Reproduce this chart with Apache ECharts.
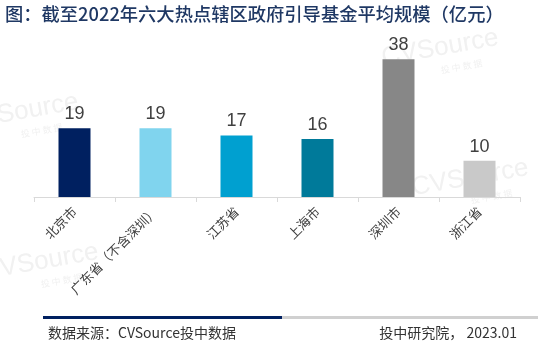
<!DOCTYPE html>
<html>
<head>
<meta charset="utf-8">
<script src="https://cdn.jsdelivr.net/npm/echarts@6/dist/echarts.min.js"></script>
<style>
html,body{margin:0;padding:0;background:#fff;}
#c{width:538px;height:349px;}
</style>
</head>
<body>
<div id="c"></div>
<script>
const categories = ['北京市', '广东省（不含深圳）', '江苏省', '上海市', '深圳市', '浙江省'];
const values = [19, 19, 17, 16, 38, 10];
const barColors = ['#002060', '#80D4EE', '#00A0D0', '#007A9A', '#878787', '#C9C9C9'];

const FONT = '"Noto Sans CJK SC", "Liberation Sans", sans-serif';
const chart = echarts.init(document.getElementById('c'), null, {renderer: 'canvas'});

function wm(x, y) {
  return {
    type: 'group', x: x, y: y, rotation: 10 * Math.PI / 180, silent: true, z: -10,
    children: [
      {type: 'text', style: {text: 'CVSource', x: 0, y: 0, fill: '#f1f1f1', font: '300 26px "Liberation Sans", sans-serif', textAlign: 'center', textVerticalAlign: 'middle'}},
      {type: 'text', style: {text: '投 中 数 据', x: 18, y: 22, fill: '#f1f1f1', font: '9px ' + FONT, textAlign: 'center', textVerticalAlign: 'middle'}}
    ]
  };
}

chart.setOption({
  animation: false,
  backgroundColor: '#fff',
  grid: {left: 34, right: 18, top: 52, bottom: 152, containLabel: false},
  xAxis: {
    type: 'category',
    data: categories,
    axisLine: {lineStyle: {color: '#d9d9d9', width: 1}},
    axisTick: {show: true, length: 5, lineStyle: {color: '#d9d9d9'}},
    axisLabel: {rotate: 45, margin: 12, fontSize: 13, color: '#404040', fontFamily: FONT, interval: 0}
  },
  yAxis: {
    type: 'value', min: 0, max: 40, show: false,
    splitLine: {show: false}
  },
  series: [{
    type: 'bar',
    data: values.map((v, i) => ({value: v, itemStyle: {color: barColors[i]}})),
    barWidth: 32,
    label: {show: true, position: 'top', distance: 5, fontSize: 18, color: '#404040', fontFamily: '"Liberation Sans", sans-serif'}
  }],
  graphic: [
    wm(20, 112), wm(40, 262), wm(440, 48), wm(470, 178),
    {type: 'text', left: 5, top: 5, style: {text: '图：截至2022年六大热点辖区政府引导基金平均规模（亿元）', fill: '#1F3864', font: '500 18.3px ' + FONT}},
    {type: 'rect', shape: {x: 43, y: 316, width: 239, height: 3}, style: {fill: '#002060'}},
    {type: 'rect', shape: {x: 282, y: 316, width: 256, height: 3}, style: {fill: '#D0D0D0'}},
    {type: 'text', style: {text: '数据来源：CVSource投中数据', x: 48, y: 333, fill: '#333333', font: '14px ' + FONT, textVerticalAlign: 'middle'}},
    {type: 'text', style: {text: '投中研究院， 2023.01', x: 517, y: 333, fill: '#333333', font: '14px ' + FONT, textAlign: 'right', textVerticalAlign: 'middle'}}
  ]
});
</script>
</body>
</html>
